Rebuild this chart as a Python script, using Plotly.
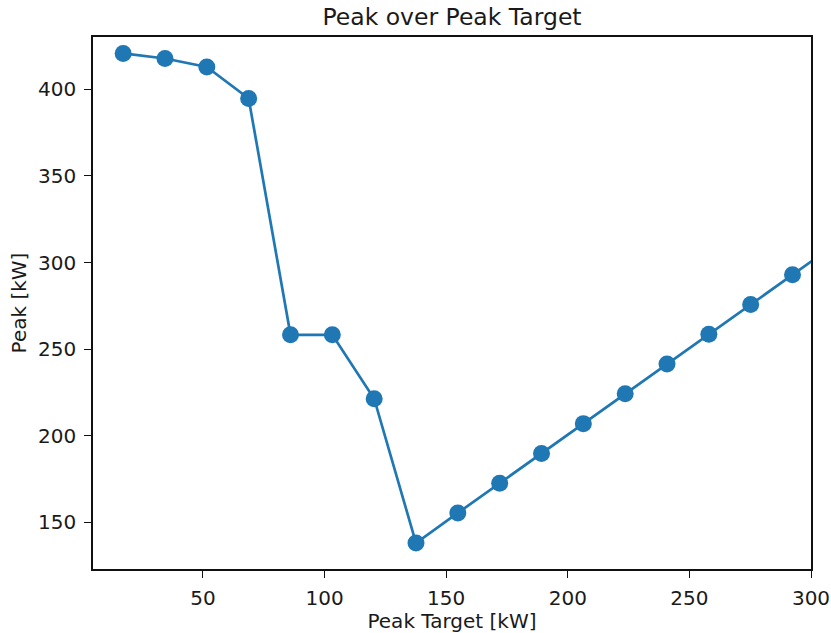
import plotly.graph_objects as go

peak_target = [17.2, 34.4, 51.6, 68.8, 86.0, 103.2, 120.4, 137.6, 154.8, 172.0,
               189.2, 206.4, 223.6, 240.8, 258.0, 275.2, 292.4, 309.6]
peak = [420.8, 417.9, 413.0, 394.8, 258.2, 258.2, 221.3, 137.9, 155.3, 172.5,
        189.7, 206.9, 224.1, 241.3, 258.5, 275.7, 292.9, 310.1]

x_ticks = [50, 100, 150, 200, 250, 300]
y_ticks = [150, 200, 250, 300, 350, 400]

FONT = "DejaVu Sans"
TXT = "#1a1a1a"

fig = go.Figure()
fig.add_trace(go.Scatter(
    x=peak_target, y=peak, mode="lines+markers",
    line=dict(color="#1f77b4", width=2.7),
    marker=dict(color="#1f77b4", size=17),
    showlegend=False,
))

axis_common = dict(
    showline=True, mirror=True, linecolor="#111111", linewidth=1.6,
    ticks="outside", ticklen=7, tickwidth=1.4, tickcolor="#111111",
    showgrid=False, zeroline=False, automargin=False,
    tickfont=dict(family=FONT, size=20, color=TXT),
)

fig.update_layout(
    width=831, height=633, autosize=False,
    paper_bgcolor="white", plot_bgcolor="white",
    margin=dict(l=93, r=20, t=37, b=64),
    title=dict(text="Peak over Peak Target", x=(93 + 811) / 2 / 831, xanchor="center",
               y=1 - 17 / 633, yanchor="middle", yref="container",
               font=dict(family=FONT, size=23.5, color=TXT)),
    xaxis=dict(range=[4.8, 300], tickvals=x_ticks, ticklabelstandoff=3,
               title=dict(text="Peak Target [kW]", standoff=3,
                          font=dict(family=FONT, size=20, color=TXT)),
               **axis_common),
    yaxis=dict(range=[122.9, 430.3], tickvals=y_ticks, ticklabelstandoff=4,
               title=dict(text="Peak [kW]", standoff=6,
                          font=dict(family=FONT, size=20, color=TXT)),
               **axis_common),
)

fig.write_html("out.html", config={"displayModeBar": False},
               post_script="document.body.style.margin='0';")
